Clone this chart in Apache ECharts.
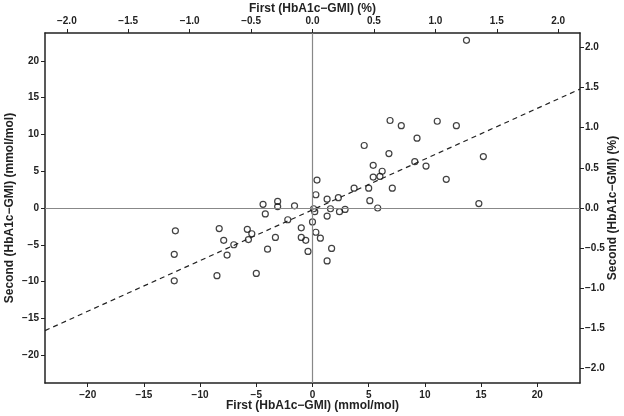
<!DOCTYPE html>
<html>
<head>
<meta charset="utf-8">
<script src="https://cdn.jsdelivr.net/npm/echarts@6/dist/echarts.min.js"></script>
<style>
  html, body { margin: 0; padding: 0; background: #fff; }
  #chart { width: 624px; height: 416px; }
</style>
</head>
<body>
<div id="chart"></div>
<script>
// differences (mmol/mol)
const firstDiff = [13.7, 6.9, 7.9, 11.1, 12.8, 9.3, 4.6, 6.8, 15.2, 9.1, 5.4, 10.1, 6.2, 6.0, 5.4,
  11.9, 0.4, 3.7, 5.0, 7.1, 0.3, 2.3, 1.3, 5.1, 14.8, -3.1, -4.4, -1.6, -3.1, 5.8, 1.6, 0.1,
  2.9, 2.4, 0.2, -4.2, 1.3, -2.2, 0.0, -1.0, -8.3, -5.8, -12.2, 0.3, -5.4, -1.0, -3.3, 0.7,
  -5.7, -7.9, -0.6, -7.0, 1.7, -4.0, -0.4, -12.3, -7.6, 1.3, -5.0, -8.5, -12.3];
const secondDiff = [22.8, 11.9, 11.2, 11.8, 11.2, 9.5, 8.5, 7.4, 7.0, 6.3, 5.8, 5.7, 5.0, 4.3, 4.2,
  3.9, 3.8, 2.7, 2.7, 2.7, 1.8, 1.4, 1.2, 1.0, 0.6, 0.9, 0.5, 0.3, 0.2, 0.0, -0.1, -0.1,
  -0.2, -0.5, -0.5, -0.8, -1.1, -1.6, -1.9, -2.7, -2.8, -2.9, -3.1, -3.3, -3.5, -4.0, -4.0, -4.1,
  -4.3, -4.4, -4.4, -5.0, -5.5, -5.6, -5.9, -6.3, -6.4, -7.2, -8.9, -9.2, -9.9];

// fitted line
const fitIntercept = -0.25;
const fitSlope = 0.69;

// tick labels
const mmolTicks = [-20, -15, -10, -5, 0, 5, 10, 15, 20];
const pctTicks = [-2.0, -1.5, -1.0, -0.5, 0.0, 0.5, 1.0, 1.5, 2.0];

const MMOL_PER_PCT = 10.929;
const xLim = [-23.8, 23.8];
const yLim = [-23.8, 23.8];

const fmtMmol = v => String(v).replace('-', '\u2212');
const fmtPct = v => v.toFixed(1).replace('-', '\u2212');

const font = 'Liberation Sans, Arial, sans-serif';
const tickLabel = { color: '#222', fontSize: 10, fontFamily: font, fontWeight: 'bold' };
const axisName = { color: '#222', fontSize: 12, fontFamily: font, fontWeight: 'bold' };

function makeAxis(lim, ticks, fmt, extra, labelMargin) {
  return Object.assign({
    type: 'value',
    min: lim[0],
    max: lim[1],
    nameLocation: 'middle',
    nameMoveOverlap: false,
    nameTextStyle: axisName,
    axisLine: { show: true, onZero: false, lineStyle: { color: '#222', width: 1.5 } },
    axisTick: { show: true, length: 4, customValues: ticks, lineStyle: { color: '#222', width: 1 } },
    axisLabel: Object.assign({ margin: labelMargin, customValues: ticks, formatter: fmt }, tickLabel),
    splitLine: { show: false },
  }, extra);
}

const points = firstDiff.map((x, i) => [x, secondDiff[i]]);

let myChart = echarts.init(document.getElementById('chart'));
myChart.setOption({
  animation: false,
  grid: { left: 45, right: 44, top: 33, bottom: 33, outerBoundsMode: 'none', containLabel: false },
  xAxis: [
    makeAxis(xLim, mmolTicks, fmtMmol, { position: 'bottom', name: 'First (HbA1c\u2212GMI) (mmol/mol)', nameGap: 17 }, 7),
    makeAxis(xLim.map(v => v / MMOL_PER_PCT), pctTicks, fmtPct, { position: 'top', name: 'First (HbA1c\u2212GMI) (%)', nameGap: 18 }, 7),
  ],
  yAxis: [
    makeAxis(yLim, mmolTicks, fmtMmol, { position: 'left', name: 'Second (HbA1c\u2212GMI) (mmol/mol)', nameGap: 29 }, 6),
    makeAxis(yLim.map(v => v / MMOL_PER_PCT), pctTicks, fmtPct, { position: 'right', name: 'Second (HbA1c\u2212GMI) (%)', nameGap: 27 }, 5),
  ],
  series: [
    {
      type: 'line',
      xAxisIndex: 0,
      yAxisIndex: 0,
      data: xLim.map(x => [x, fitIntercept + fitSlope * x]),
      symbol: 'none',
      silent: true,
      lineStyle: { color: '#222', width: 1.2, type: [5, 4] },
      markLine: {
        silent: true,
        symbol: 'none',
        label: { show: false },
        lineStyle: { color: '#888', width: 1.2, type: 'solid' },
        data: [{ xAxis: 0 }, { yAxis: 0 }],
      },
    },
    {
      type: 'scatter',
      xAxisIndex: 0,
      yAxisIndex: 0,
      data: points,
      symbol: 'circle',
      symbolSize: 6,
      itemStyle: { color: 'rgba(0,0,0,0)', borderColor: '#111', borderWidth: 1.2 },
    },
  ],
});
</script>
</body>
</html>
